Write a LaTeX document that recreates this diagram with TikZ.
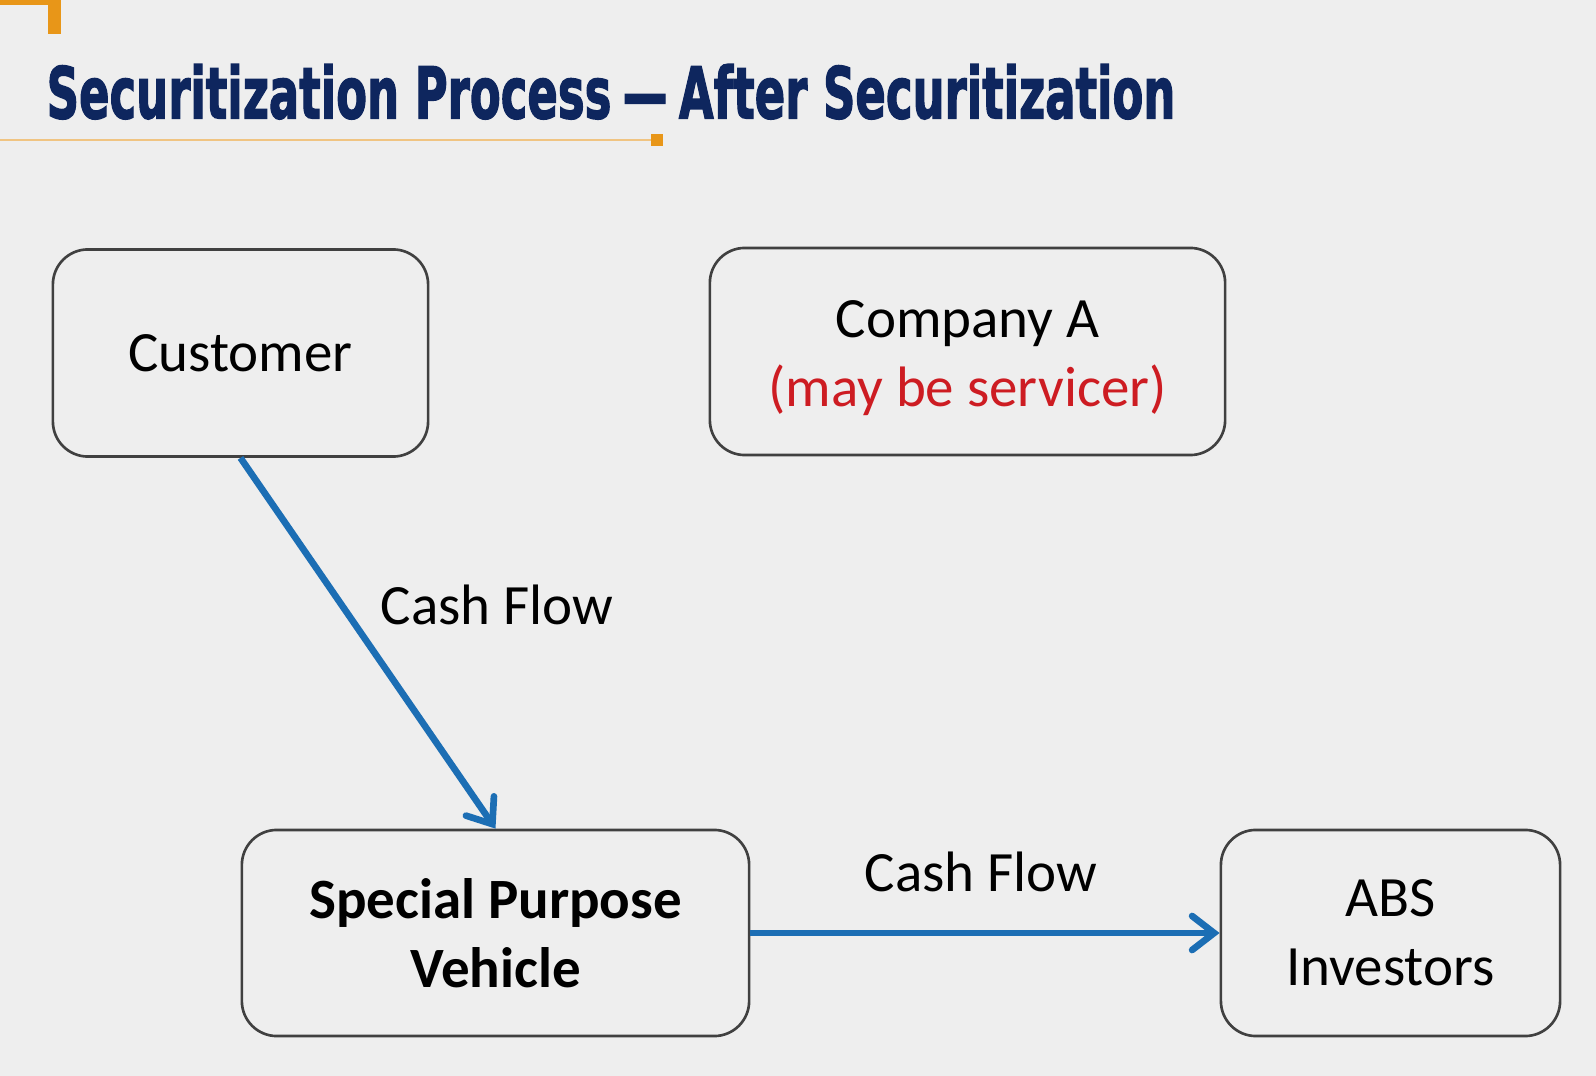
\documentclass[tikz,border=0pt]{standalone}
\usepackage{fontspec}
\setmainfont{Carlito}
\newfontfamily\titlefont[FakeBold=2.2]{DejaVu Sans Bold}
\usetikzlibrary{arrows.meta}
\definecolor{bgc}{RGB}{238,238,238}
\definecolor{boxline}{RGB}{64,64,64}
\definecolor{flowblue}{RGB}{28,110,180}
\definecolor{titleblue}{RGB}{14,38,94}
\definecolor{accent}{RGB}{232,150,24}
\definecolor{accentlight}{RGB}{240,196,130}
\definecolor{servred}{RGB}{205,28,34}
\tikzset{
  entity/.style={draw=boxline, line width=0.75pt, rounded corners=0.35cm,
    align=center, inner sep=0pt, font=\fontsize{16.2pt}{19.6pt}\selectfont, text=black},
  flow/.style={draw=flowblue, line width=1.9pt,
    -{Straight Barb[length=0.22cm, width=0.34cm, line width=1.9pt, line cap=round]}},
  flowlabel/.style={font=\fontsize{16.2pt}{19.4pt}\selectfont, inner sep=0pt}
}
\begin{document}
\begin{tikzpicture}[x=0.01cm, y=-0.01cm]
  \fill[bgc] (0,0) rectangle (1596,1076);
  \useasboundingbox (0,0) rectangle (1596,1076);
  % corner accent
  \fill[accent] (48,0) rectangle (61,34);
  \fill[accent] (0,0) rectangle (61,5);
  % title
  \node[anchor=south west, inner sep=0pt, text=titleblue] (title) at (46,120)
    {\resizebox{11.28cm}{0.54cm}{\titlefont Securitization Process\hspace{0.25em}—\hspace{0.25em}After Securitization}};
  \draw[accentlight, line width=0.6pt] (0,140) -- (657,140);
  \fill[accent] (651,134) rectangle (663,146);
  % boxes
  \node[entity, minimum width=3.75cm, minimum height=2.07cm] (cust) at (240.5,353) {Customer};
  \node[entity, minimum width=5.15cm, minimum height=2.07cm] (comp) at (967.5,351.5)
    {\rule{0pt}{14.5pt}Company A\\\textcolor{servred}{(may be servicer)}};
  \node[entity, minimum width=5.07cm, minimum height=2.06cm, font=\fontsize{16.2pt}{19.6pt}\selectfont\bfseries] (spv) at (495.5,933)
    {Special Purpose\\Vehicle};
  \node[entity, minimum width=3.39cm, minimum height=2.06cm] (abs) at (1390.5,933)
    {ABS\\Investors};
  % flows
  \draw[flow] (cust.south) -- (spv.north);
  \draw[flow] (spv.east) -- (abs.west);
  \node[flowlabel] (cf1) at (497,605) {Cash Flow};
  \node[flowlabel] (cf2) at (981,872) {Cash Flow};
\end{tikzpicture}
\end{document}
